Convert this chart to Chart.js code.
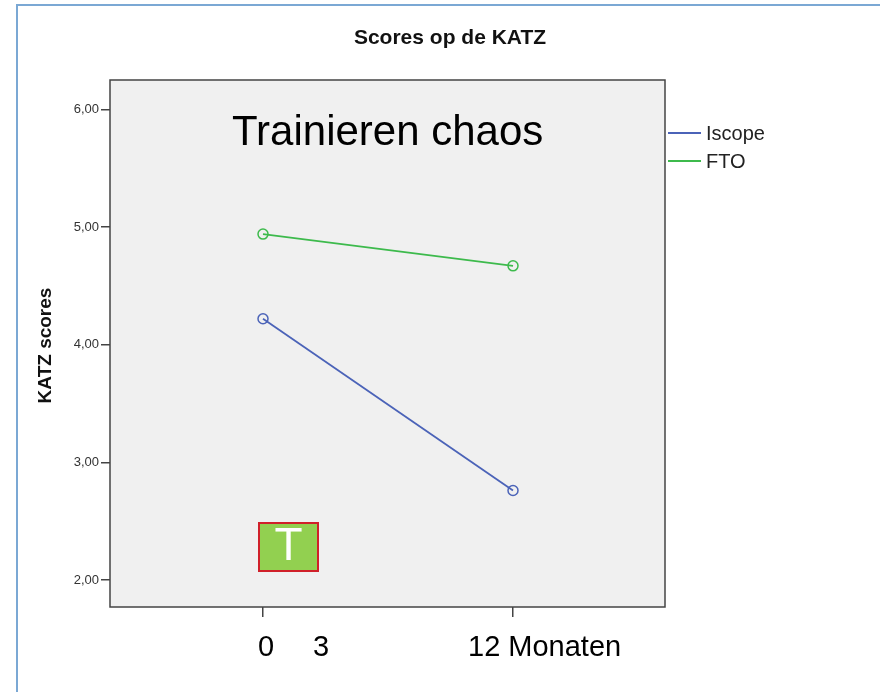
<!DOCTYPE html>
<html><head><meta charset="utf-8">
<script src="https://cdn.jsdelivr.net/npm/chart.js@4/dist/chart.umd.min.js"></script>
<style>html,body{margin:0;padding:0;background:#fff}#wrap{width:880px;height:692px;position:relative}</style>
</head><body><div id="wrap"><canvas id="c" width="880" height="692"></canvas></div>
<script>
// ---- data ----
const timepoints = [0, 1];
const timeLabels = ['0', '12 Monaten'];
const seriesNames = ['Iscope', 'FTO'];
const iscopeScores = [4.22, 2.76];
const ftoScores = [4.94, 4.67];
const yTicks = [2, 3, 4, 5, 6];
const chartTitle = 'Scores op de KATZ';
const yTitle = 'KATZ scores';
const overlayText = 'Trainieren chaos';
const boxText = 'T';
const extraLabel = '3';

const BLUE = '#4b63b8';
const GREEN = '#3dba4c';
const FONT = '"Liberation Sans", Arial, sans-serif';

const toPts = (vals) => vals.map((v, i) => ({ x: timepoints[i], y: v }));

const decor = {
  id: 'decor',
  beforeDraw(chart) {
    const { ctx, chartArea: a } = chart;
    ctx.save();
    ctx.fillStyle = '#fff';
    ctx.fillRect(0, 0, chart.width, chart.height);
    // outer frame (top & left)
    ctx.strokeStyle = '#7ba8d4';
    ctx.lineWidth = 2;
    ctx.beginPath();
    ctx.moveTo(17, chart.height);
    ctx.lineTo(17, 5);
    ctx.lineTo(chart.width, 5);
    ctx.stroke();
    // plot background
    ctx.fillStyle = '#f0f0f0';
    ctx.fillRect(a.left, a.top, a.right - a.left, a.bottom - a.top);
    ctx.restore();
  },
  afterDraw(chart) {
    const { ctx, chartArea: a, scales } = chart;
    const xs = scales.x, ys = scales.y;
    ctx.save();
    // plot border
    ctx.strokeStyle = '#444';
    ctx.lineWidth = 1.5;
    ctx.strokeRect(a.left, a.top, a.right - a.left, a.bottom - a.top);

    // title
    ctx.fillStyle = '#111';
    ctx.font = 'bold 21px ' + FONT;
    ctx.textAlign = 'center';
    ctx.textBaseline = 'middle';
    ctx.fillText(chartTitle, 450, 38);

    // y title
    ctx.save();
    ctx.translate(46, (a.top + a.bottom) / 2 + 2);
    ctx.rotate(-Math.PI / 2);
    ctx.font = 'bold 19px ' + FONT;
    ctx.fillText(yTitle, 0, 0);
    ctx.restore();

    // legend
    const legendColors = [BLUE, GREEN];
    seriesNames.forEach((name, i) => {
      const y = 133 + i * 28;
      ctx.strokeStyle = legendColors[i];
      ctx.lineWidth = 2;
      ctx.beginPath();
      ctx.moveTo(a.right + 3, y);
      ctx.lineTo(a.right + 36, y);
      ctx.stroke();
      ctx.fillStyle = '#222';
      ctx.font = '20px ' + FONT;
      ctx.textAlign = 'left';
      ctx.textBaseline = 'middle';
      ctx.fillText(name, a.right + 41, y + 1);
    });

    // overlay text inside plot
    ctx.fillStyle = '#000';
    ctx.font = '42px ' + FONT;
    ctx.textAlign = 'left';
    ctx.textBaseline = 'alphabetic';
    ctx.fillText(overlayText, xs.getPixelForValue(-0.124), ys.getPixelForValue(5.694));

    // T box
    const bx1 = xs.getPixelForValue(-0.016), bx2 = xs.getPixelForValue(0.22);
    const by1 = ys.getPixelForValue(2.484), by2 = ys.getPixelForValue(2.076);
    ctx.fillStyle = '#92d050';
    ctx.fillRect(bx1, by1, bx2 - bx1, by2 - by1);
    ctx.strokeStyle = '#d0202a';
    ctx.lineWidth = 2;
    ctx.strokeRect(bx1, by1, bx2 - bx1, by2 - by1);
    ctx.fillStyle = '#fff';
    ctx.font = '46px ' + FONT;
    ctx.textAlign = 'center';
    ctx.textBaseline = 'alphabetic';
    ctx.fillText(boxText, (bx1 + bx2) / 2, by1 + 37);

    // x labels
    ctx.fillStyle = '#000';
    ctx.font = '29px ' + FONT;
    ctx.textAlign = 'left';
    const base = a.bottom + 49;
    ctx.fillText(timeLabels[0], xs.getPixelForValue(timepoints[0]) - 5, base);
    ctx.fillText(extraLabel, xs.getPixelForValue(timepoints[0]) + 50, base);
    ctx.fillText(timeLabels[1], xs.getPixelForValue(timepoints[1]) - 45, base);
    ctx.restore();
  }
};

new Chart(document.getElementById('c'), {
  type: 'line',
  data: {
    datasets: [
      { label: seriesNames[0], data: toPts(iscopeScores), borderColor: BLUE, borderWidth: 1.8,
        pointRadius: 5, pointBorderWidth: 1.5, pointBorderColor: BLUE, pointBackgroundColor: 'rgba(0,0,0,0)', fill: false },
      { label: seriesNames[1], data: toPts(ftoScores), borderColor: GREEN, borderWidth: 1.8,
        pointRadius: 5, pointBorderWidth: 1.5, pointBorderColor: GREEN, pointBackgroundColor: 'rgba(0,0,0,0)', fill: false }
    ]
  },
  options: {
    responsive: false,
    animation: false,
    devicePixelRatio: 1,
    layout: { padding: { left: 0, top: 80, right: 215, bottom: 0 } },
    plugins: { legend: { display: false }, title: { display: false }, tooltip: { enabled: false } },
    scales: {
      x: {
        type: 'linear', min: -0.612, max: 1.608,
        afterBuildTicks: s => { s.ticks = timepoints.map(v => ({ value: v })); },
        afterFit: s => { s.height = 85; },
        ticks: { display: false },
        grid: { display: true, drawOnChartArea: false, drawTicks: true, tickLength: 10, color: '#444', lineWidth: 1.5 },
        border: { display: false }
      },
      y: {
        type: 'linear', min: 1.77, max: 6.25,
        afterBuildTicks: s => { s.ticks = yTicks.map(v => ({ value: v })); },
        afterFit: s => { s.width = 110; },
        ticks: { callback: v => v.toFixed(2).replace('.', ','), color: '#333', padding: 2,
                 font: { family: FONT, size: 13 } },
        grid: { display: true, drawOnChartArea: false, drawTicks: true, tickLength: 9, color: '#444', lineWidth: 1.5 },
        border: { display: false }
      }
    }
  },
  plugins: [decor]
});
</script>
</body></html>
